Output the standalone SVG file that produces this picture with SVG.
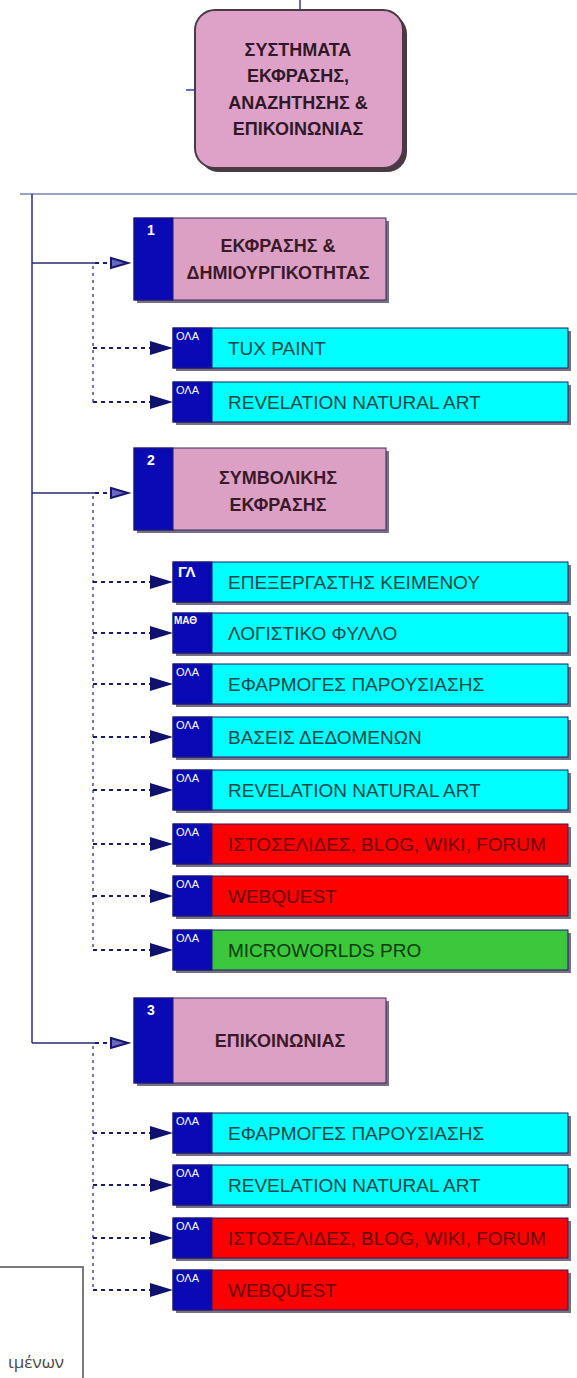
<svg xmlns="http://www.w3.org/2000/svg" width="577" height="1378" viewBox="0 0 577 1378">
<style>
.sh{fill:#4a4058;opacity:0.75}
.blue{fill:#0a0ab4;stroke:#1a1a70;stroke-width:1}
.cyan{fill:#00ffff;stroke:#1a1a70;stroke-width:1}
.red{fill:#ff0000;stroke:#3a1a50;stroke-width:1}
.green{fill:#3cc83c;stroke:#1a1a70;stroke-width:1}
.pink{fill:#dca0c4;stroke:#3a2a60;stroke-width:1}
.it{font-family:"Liberation Sans",Arial,sans-serif;font-size:19px}
.tc{fill:#0a4848}.tr{fill:#6a0000}.tg{fill:#0a3a0a}
.lb{font-family:"Liberation Sans",Arial,sans-serif;font-size:11px;fill:#ffffff}
.lbg{font-family:"Liberation Sans",Arial,sans-serif;font-size:15px;font-weight:bold;fill:#ffffff}
.lbm{font-family:"Liberation Sans",Arial,sans-serif;font-size:10px;font-weight:bold;fill:#ffffff}
.hd{font-family:"Liberation Sans",Arial,sans-serif;font-size:18px;font-weight:bold;fill:#3a1a2a;text-anchor:middle}
.num{font-family:"Liberation Sans",Arial,sans-serif;font-size:14px;font-weight:bold;fill:#ffffff}
.solid{stroke:#2a2a78;stroke-width:1.5;fill:none}
.dh{stroke:#1a1a70;stroke-width:1.8;stroke-dasharray:4 4;fill:none}
.dv{stroke:#7878a0;stroke-width:2;stroke-dasharray:3 4;fill:none}
.ah{fill:#10106e}
.sah{fill:#6868c0;stroke:#16166e;stroke-width:2}
</style>
<defs>
<g id="itemShape">
<rect class="sh" x="3" y="3" width="395" height="40"/>
</g>
</defs>
<rect width="577" height="1378" fill="#ffffff"/>

<g id="connectors">
<line x1="300" y1="0" x2="300" y2="10" stroke="#3a3aa0" stroke-width="1.5"/>
<line x1="186" y1="90" x2="195" y2="90" stroke="#3a3aa0" stroke-width="1.5"/>
<line x1="20" y1="194" x2="577" y2="194" stroke="#9aa2c4" stroke-width="2"/>
<line class="solid" x1="32" y1="194" x2="32" y2="1043"/>
<path class="solid" d="M32 263H95M32 493H95M32 1043H95"/>
<path class="dh" d="M95 263H108M95 493H108M95 1043H108"/>
<path class="sah" d="M111 258L128 263L111 268Z"/>
<path class="sah" d="M111 488L128 493L111 498Z"/>
<path class="sah" d="M111 1038L128 1043L111 1048Z"/>
<path class="dv" d="M93 266V402M93 496V950M93 1046V1290"/>
<path class="dh" d="M93 348H150M93 402H150M93 582H150M93 633H150M93 684H150M93 737H150M93 790H150M93 844H150M93 896H150M93 950H150M93 1133H150M93 1185H150M93 1238H150M93 1290H150"/>
<g class="ah">
<path d="M150 341L173 348L150 355Z"/>
<path d="M150 395L173 402L150 409Z"/>
<path d="M150 575L173 582L150 589Z"/>
<path d="M150 626L173 633L150 640Z"/>
<path d="M150 677L173 684L150 691Z"/>
<path d="M150 730L173 737L150 744Z"/>
<path d="M150 783L173 790L150 797Z"/>
<path d="M150 837L173 844L150 851Z"/>
<path d="M150 889L173 896L150 903Z"/>
<path d="M150 943L173 950L150 957Z"/>
<path d="M150 1126L173 1133L150 1140Z"/>
<path d="M150 1178L173 1185L150 1192Z"/>
<path d="M150 1231L173 1238L150 1245Z"/>
<path d="M150 1283L173 1290L150 1297Z"/>
</g>
</g>

<g id="root">
<rect x="199" y="14" width="208" height="158" rx="20" fill="#4a3a44"/>
<rect x="195" y="10" width="208" height="158" rx="20" fill="#dea2c8" stroke="#4a3a46" stroke-width="2"/>
<g font-family="'Liberation Sans',Arial,sans-serif" font-size="18" font-weight="bold" fill="#301828" text-anchor="middle">
<text x="298" y="55.5">ΣΥΣΤΗΜΑΤΑ</text>
<text x="298" y="82">ΕΚΦΡΑΣΗΣ,</text>
<text x="298" y="108.5">ΑΝΑΖΗΤΗΣΗΣ &amp;</text>
<text x="298" y="134.5">ΕΠΙΚΟΙΝΩΝΙΑΣ</text>
</g>
</g>

<g id="sec1">
<rect class="sh" x="137" y="221" width="252" height="82"/>
<rect class="pink" x="134" y="218" width="252" height="82"/>
<rect class="blue" x="134" y="218" width="39" height="82"/>
<text class="num" x="147" y="235">1</text>
<text class="hd" x="278" y="252">ΕΚΦΡΑΣΗΣ &amp;</text>
<text class="hd" x="278" y="279">ΔΗΜΙΟΥΡΓΙΚΟΤΗΤΑΣ</text>
</g>

<g id="s1i1" transform="translate(173,328)">
<use href="#itemShape"/><rect class="cyan" width="395" height="40"/><rect class="blue" width="39" height="40"/>
<text class="lb" x="3" y="12">ΟΛΑ</text><text class="it tc" x="55" y="27">TUX PAINT</text>
</g>
<g id="s1i2" transform="translate(173,382)">
<use href="#itemShape"/><rect class="cyan" width="395" height="40"/><rect class="blue" width="39" height="40"/>
<text class="lb" x="3" y="12">ΟΛΑ</text><text class="it tc" x="55" y="27">REVELATION NATURAL ART</text>
</g>

<g id="sec2">
<rect class="sh" x="137" y="451" width="252" height="82"/>
<rect class="pink" x="134" y="448" width="252" height="82"/>
<rect class="blue" x="134" y="448" width="39" height="82"/>
<text class="num" x="147" y="465">2</text>
<text class="hd" x="278" y="484">ΣΥΜΒΟΛΙΚΗΣ</text>
<text class="hd" x="278" y="511">ΕΚΦΡΑΣΗΣ</text>
</g>

<g id="s2i1" transform="translate(173,562)">
<use href="#itemShape"/><rect class="cyan" width="395" height="40"/><rect class="blue" width="39" height="40"/>
<text class="lbg" x="5" y="15">ΓΛ</text><text class="it tc" x="55" y="27">ΕΠΕΞΕΡΓΑΣΤΗΣ ΚΕΙΜΕΝΟΥ</text>
</g>
<g id="s2i2" transform="translate(173,613)">
<use href="#itemShape"/><rect class="cyan" width="395" height="40"/><rect class="blue" width="39" height="40"/>
<text class="lbm" x="1" y="11">ΜΑΘ</text><text class="it tc" x="55" y="27">ΛΟΓΙΣΤΙΚΟ ΦΥΛΛΟ</text>
</g>
<g id="s2i3" transform="translate(173,664)">
<use href="#itemShape"/><rect class="cyan" width="395" height="40"/><rect class="blue" width="39" height="40"/>
<text class="lb" x="3" y="12">ΟΛΑ</text><text class="it tc" x="55" y="27">ΕΦΑΡΜΟΓΕΣ ΠΑΡΟΥΣΙΑΣΗΣ</text>
</g>
<g id="s2i4" transform="translate(173,717)">
<use href="#itemShape"/><rect class="cyan" width="395" height="40"/><rect class="blue" width="39" height="40"/>
<text class="lb" x="3" y="12">ΟΛΑ</text><text class="it tc" x="55" y="27">ΒΑΣΕΙΣ ΔΕΔΟΜΕΝΩΝ</text>
</g>
<g id="s2i5" transform="translate(173,770)">
<use href="#itemShape"/><rect class="cyan" width="395" height="40"/><rect class="blue" width="39" height="40"/>
<text class="lb" x="3" y="12">ΟΛΑ</text><text class="it tc" x="55" y="27">REVELATION NATURAL ART</text>
</g>
<g id="s2i6" transform="translate(173,824)">
<use href="#itemShape"/><rect class="red" width="395" height="40"/><rect class="blue" width="39" height="40"/>
<text class="lb" x="3" y="12">ΟΛΑ</text><text class="it tr" x="55" y="27">ΙΣΤΟΣΕΛΙΔΕΣ, BLOG, WIKI, FORUM</text>
</g>
<g id="s2i7" transform="translate(173,876)">
<use href="#itemShape"/><rect class="red" width="395" height="40"/><rect class="blue" width="39" height="40"/>
<text class="lb" x="3" y="12">ΟΛΑ</text><text class="it tr" x="55" y="27">WEBQUEST</text>
</g>
<g id="s2i8" transform="translate(173,930)">
<use href="#itemShape"/><rect class="green" width="395" height="40"/><rect class="blue" width="39" height="40"/>
<text class="lb" x="3" y="12">ΟΛΑ</text><text class="it tg" x="55" y="27">MICROWORLDS PRO</text>
</g>

<g id="sec3">
<rect class="sh" x="137" y="1001" width="252" height="85"/>
<rect class="pink" x="134" y="998" width="252" height="85"/>
<rect class="blue" x="134" y="998" width="39" height="85"/>
<text class="num" x="147" y="1015">3</text>
<text class="hd" x="280" y="1047">ΕΠΙΚΟΙΝΩΝΙΑΣ</text>
</g>

<g id="s3i1" transform="translate(173,1113)">
<use href="#itemShape"/><rect class="cyan" width="395" height="40"/><rect class="blue" width="39" height="40"/>
<text class="lb" x="3" y="12">ΟΛΑ</text><text class="it tc" x="55" y="27">ΕΦΑΡΜΟΓΕΣ ΠΑΡΟΥΣΙΑΣΗΣ</text>
</g>
<g id="s3i2" transform="translate(173,1165)">
<use href="#itemShape"/><rect class="cyan" width="395" height="40"/><rect class="blue" width="39" height="40"/>
<text class="lb" x="3" y="12">ΟΛΑ</text><text class="it tc" x="55" y="27">REVELATION NATURAL ART</text>
</g>
<g id="s3i3" transform="translate(173,1218)">
<use href="#itemShape"/><rect class="red" width="395" height="40"/><rect class="blue" width="39" height="40"/>
<text class="lb" x="3" y="12">ΟΛΑ</text><text class="it tr" x="55" y="27">ΙΣΤΟΣΕΛΙΔΕΣ, BLOG, WIKI, FORUM</text>
</g>
<g id="s3i4" transform="translate(173,1270)">
<use href="#itemShape"/><rect class="red" width="395" height="40"/><rect class="blue" width="39" height="40"/>
<text class="lb" x="3" y="12">ΟΛΑ</text><text class="it tr" x="55" y="27">WEBQUEST</text>
</g>

<g id="note">
<path d="M-2 1267H83V1380" fill="none" stroke="#7a7a7a" stroke-width="2"/>
<text x="64" y="1368" text-anchor="end" font-family="'Open Sans','Liberation Sans',sans-serif" font-size="17" fill="#444444">ιμένων</text>
</g>
</svg>
